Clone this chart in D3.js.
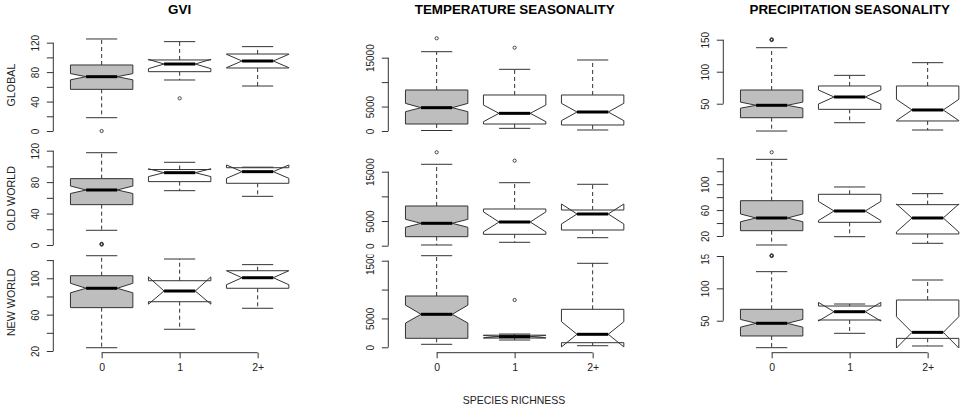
<!DOCTYPE html>
<html><head><meta charset="utf-8">
<script src="https://cdn.jsdelivr.net/npm/d3@7"></script>
<style>body{margin:0;background:#fff}svg{display:block}text{font-family:"Liberation Sans",Arial,sans-serif}</style>
</head><body><svg id="c" width="964" height="408"></svg>
<script>
// ---- data: [whiskerLow, Q1, median, Q3, whiskerHigh, notchLow, notchHigh]
const categories = ["0", "1", "2+"];
const columns = ["GVI", "TEMPERATURE SEASONALITY", "PRECIPITATION SEASONALITY"];
const regions = ["GLOBAL", "OLD WORLD", "NEW WORLD"];

const gviGlobal = [[18.1,56.6,73.8,89.7,125.0,69.5,78.0],[69.3,80.6,91.0,96.5,121.4,84.7,97.3],[61.1,85.6,95.1,104.6,114.6,86.0,104.2]];
const gviGlobalOut = [[0],[44.4],[]];
const tempGlobal = [[100,1432,4774,8389,16225,3950,5650],[546,1432,3614,7366,12619,1914,5314],[205,1228,3887,7366,14527,2115,5660]];
const tempGlobalOut = [[18966],[17043],[]];
const precGlobal = [[7.3,28.1,47.5,71.4,137.5,43.0,52.5],[20.3,41.2,60.5,77.7,94.3,49.5,71.4],[8.9,23.0,40.2,77.7,114.1,23.6,56.8]];
const precGlobalOut = [[149.4,150,150.6],[],[]];

const gviOld = [[18.7,51.3,70.0,84.4,117.4,65.5,75.0],[69.1,80.6,92.0,96.0,105.2,87.0,97.0],[61.9,78.5,93.3,98.3,99.0,84.8,101.8]];
const gviOldOut = [[0.4,1.0,1.6],[],[]];
const tempOld = [[142,1824,4540,8047,16500,3730,5350],[689,2311,4804,7439,12770,2800,6850],[1622,3182,6426,7236,12446,4400,8450]];
const tempOldOut = [[18932],[17230],[]];
const precOld = [[6.1,28.2,47.8,74.5,138.4,42.0,54.0],[18.9,41.1,58.6,84.4,95.7,43.8,73.4],[8.7,23.1,47.8,68.4,85.4,26.2,69.4]];
const precOldOut = [[149.3],[],[]];

const gviNew = [[23.6,67.7,89.0,102.8,124.8,84.0,94.5],[43.9,74.2,86.0,97.3,121.2,71.5,101.5],[67.0,89.0,100.6,108.3,115.0,92.9,108.3]];
const gviNewOut = [[],[],[]];
const tempNew = [[520,1559,5716,8885,15865,4200,7300],[1264,1600,1850,2100,2300,1650,2050],[277,797,2251,6582,14549,68,4434]];
const tempNewOut = [[],[8192],[]];
const precNew = [[8.3,26.4,46.0,67.6,125.8,40.0,52.0],[30.5,51.1,63.9,72.7,75.8,49.5,78.3],[10.9,22.7,32.0,82.0,112.9,7.8,56.2]];
const precNewOut = [[149.9,150.5,151.1],[],[]];

// ---- axis tick values and which ones carry labels
const gviTicks = [0,20,40,60,80,100,120], gviLabels = [0,40,80,120];
const gviNewTicks = [20,40,60,80,100,120], gviNewLabels = [20,60,100];
const tempTicks = [0,5000,10000,15000], tempLabels = [0,5000,15000];
const precTicks = [50,100,150], precLabels = [50,100,150];
const precOldTicks = [20,40,60,80,100,120,140], precOldLabels = [20,60,100];

// ---- axis limits (like R's ylim, per panel)
const yLimits = [
  [[-5,130],[-757,19580],[1.56,156.9]],
  [[-3.7,122],[-446,19580],[1.6,154.2]],
  [[18.35,128.9],[-900,16506],[0.85,156.2]]
];

const panels = [
  [gviGlobal,gviGlobalOut,gviTicks,gviLabels],[tempGlobal,tempGlobalOut,tempTicks,tempLabels],[precGlobal,precGlobalOut,precTicks,precLabels],
  [gviOld,gviOldOut,gviTicks,gviLabels],[tempOld,tempOldOut,tempTicks,tempLabels],[precOld,precOldOut,precOldTicks,precOldLabels],
  [gviNew,gviNewOut,gviNewTicks,gviNewLabels],[tempNew,tempNewOut,tempTicks,tempLabels],[precNew,precNewOut,precTicks,precLabels]
];

// ---- layout
const colLeft = [53.3, 388.3, 723.3];
const plotW = 252.7;
const rowTop = [35.3, 149.1, 252];
const rowBot = [134.7, 247.9, 352.5];
const fills = ["#bebebe", "#ffffff", "#ffffff"];
const ink = "#333";

const svg = d3.select("#c");
svg.append("defs").append("clipPath").attr("id","row3clip")
  .append("rect").attr("x",-100).attr("y",254.5).attr("width",200).attr("height",160);

panels.forEach((p, i) => {
  const row = Math.floor(i / 3), col = i % 3;
  const [stats, outs, ticks, labels] = p;
  const x = d3.scaleLinear().domain([0.38, 3.62]).range([colLeft[col], colLeft[col] + plotW]);
  const y = d3.scaleLinear().domain(yLimits[row][col]).range([rowBot[row], rowTop[row]]);
  const g = svg.append("g");
  const hw = 0.4, sw = 0.2, nf = 0.5;

  stats.forEach((s, k) => {
    const c = k + 1;
    const [lo, q1, med, q3, hi, cl, ch] = s;
    g.append("line").attr("x1", x(c)).attr("x2", x(c)).attr("y1", y(q3)).attr("y2", y(hi))
      .attr("stroke", ink).attr("stroke-dasharray", "4,3").attr("stroke-width", 1);
    g.append("line").attr("x1", x(c)).attr("x2", x(c)).attr("y1", y(q1)).attr("y2", y(lo))
      .attr("stroke", ink).attr("stroke-dasharray", "4,3").attr("stroke-width", 1);
    [lo, hi].forEach(v => g.append("line").attr("x1", x(c - sw)).attr("x2", x(c + sw))
      .attr("y1", y(v)).attr("y2", y(v)).attr("stroke", ink).attr("stroke-width", 1));
    const pts = [
      [c - hw, q1], [c + hw, q1], [c + hw, cl], [c + hw * nf, med], [c + hw, ch], [c + hw, q3],
      [c - hw, q3], [c - hw, ch], [c - hw * nf, med], [c - hw, cl]
    ];
    g.append("path").attr("d", d3.line().x(d => x(d[0])).y(d => y(d[1]))(pts) + "Z")
      .attr("fill", fills[k]).attr("stroke", ink).attr("stroke-width", 1).attr("stroke-linejoin", "miter");
    g.append("line").attr("x1", x(c - hw * nf)).attr("x2", x(c + hw * nf)).attr("y1", y(med)).attr("y2", y(med))
      .attr("stroke", "#000").attr("stroke-width", 3);
    outs[k].forEach(v => g.append("circle").attr("cx", x(c)).attr("cy", y(v)).attr("r", 1.6)
      .attr("fill", "none").attr("stroke", ink).attr("stroke-width", 0.9));
  });

  const ya = svg.append("g").attr("transform", `translate(${colLeft[col]},0)`);
  if (row === 2) ya.attr("clip-path", "url(#row3clip)");
  ya.call(d3.axisLeft(y).tickValues(ticks).tickSize(6.5).tickFormat(d => labels.includes(d) ? d : ""));
  ya.select(".domain").remove();
  ya.selectAll(".tick line").attr("stroke", ink);
  ya.append("line").attr("x1", 0).attr("x2", 0).attr("y1", y(ticks[0])).attr("y2", y(ticks[ticks.length - 1]))
    .attr("stroke", ink);
  ya.selectAll(".tick text").attr("x", 0).attr("dy", null).attr("y", 0)
    .attr("transform", "translate(-14,0) rotate(-90)").attr("text-anchor", "middle")
    .attr("fill", "#222").style("font-size", "10px").style("font-family", '"Liberation Sans",Arial,sans-serif');

  if (row === 2) {
    const xa = svg.append("g").attr("transform", `translate(0,352.7)`);
    xa.call(d3.axisBottom(x).tickValues([1, 2, 3]).tickSize(5.6).tickFormat(d => categories[d - 1]));
    xa.select(".domain").remove();
    xa.selectAll(".tick line").attr("stroke", ink);
    xa.append("line").attr("x1", x(1)).attr("x2", x(3)).attr("y1", 0).attr("y2", 0).attr("stroke", ink);
    xa.selectAll(".tick text").attr("y", 18.3).attr("dy", null).attr("fill", "#222")
      .style("font-size", "10.5px").style("font-family", '"Liberation Sans",Arial,sans-serif');
  }
  if (row === 0) {
    svg.append("text").attr("x", colLeft[col] + plotW / 2).attr("y", 14).attr("text-anchor", "middle")
      .style("font-weight", "bold").style("font-size", "13.4px").attr("fill", "#000").text(columns[col]);
  }
  if (col === 0) {
    const cy = (rowTop[row] + rowBot[row]) / 2;
    svg.append("text").attr("transform", `translate(14.5,${cy}) rotate(-90)`).attr("text-anchor", "middle")
      .style("font-size", "10.7px").attr("fill", "#222").text(regions[row]);
  }
});

svg.append("text").attr("x", 514).attr("y", 404).attr("text-anchor", "middle")
  .style("font-size", "10.5px").attr("fill", "#222").text("SPECIES RICHNESS");
</script></body></html>
